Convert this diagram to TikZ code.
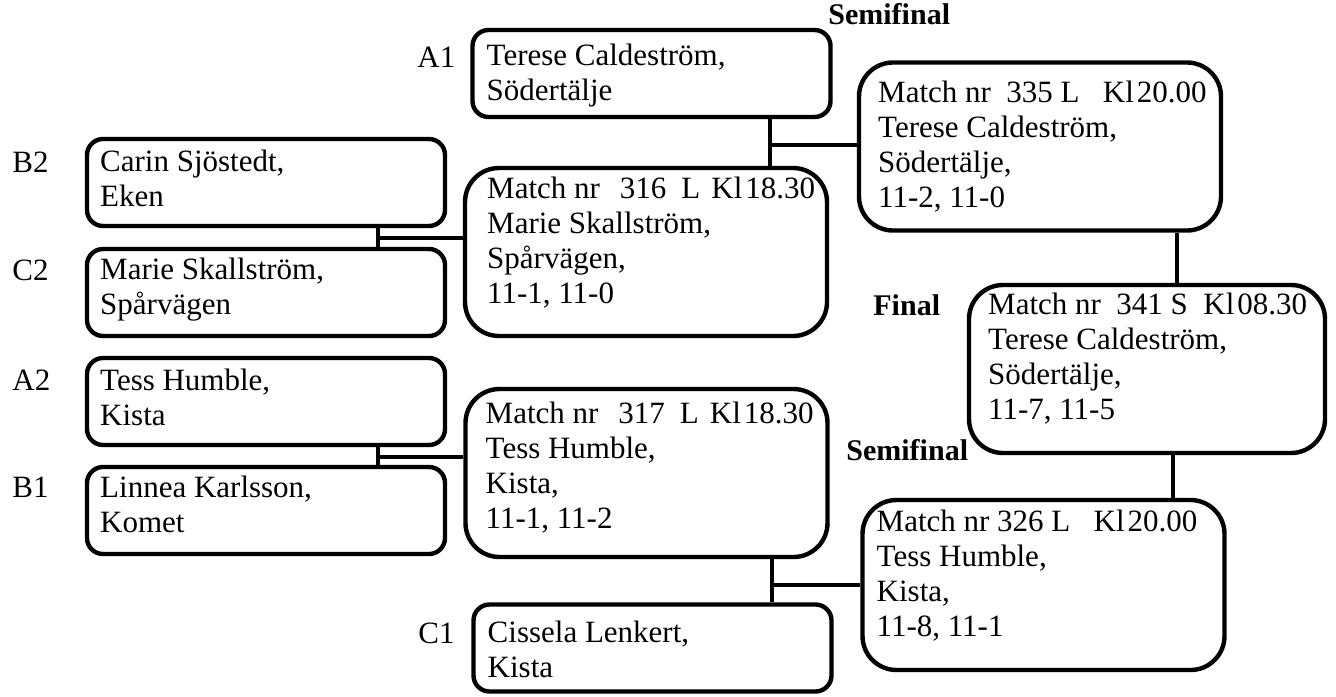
\documentclass[tikz,border=0pt]{standalone}
\usepackage{fontspec}
\setmainfont{Liberation Serif}
\newcommand{\cell}[1]{\begin{tabular}[t]{@{}l@{}}#1\end{tabular}}
\tikzset{
  player/.style={draw, line width=2.2pt, rounded corners=8pt, minimum width=179pt, minimum height=43.5pt, inner sep=0pt},
  match/.style={draw, line width=2.2pt, rounded corners=17pt, minimum width=181pt, minimum height=84pt, inner sep=0pt},
  txt/.style={anchor=base west, inner sep=0pt, font=\fontsize{15.5}{17.5}\selectfont},
  stage/.style={anchor=base west, inner sep=0pt, font=\fontsize{15}{17}\selectfont\bfseries},
  link/.style={line width=2.2pt}
}
\begin{document}
\begin{tikzpicture}[x=0.5pt,y=-0.5pt]
  \useasboundingbox (0,0) rectangle (1336,696);

  % first round
  \node[player] (a1) at (651.5,73.5) {};
  \node[player] (b2) at (266,182.5) {};
  \node[player] (c2) at (266,292.5) {};
  \node[player] (a2) at (266,401.5) {};
  \node[player] (b1) at (266,510.5) {};
  \node[player] (c1) at (652.5,648) {};

  \node[txt] (a1t) at ([shift={(16,38)}]a1.north west) {\cell{Terese Caldeström,\\Södertälje}};
  \node[txt] (b2t) at ([shift={(15,35)}]b2.north west) {\cell{Carin Sjöstedt,\\Eken}};
  \node[txt] (c2t) at ([shift={(15,33)}]c2.north west) {\cell{Marie Skallström,\\Spårvägen}};
  \node[txt] (a2t) at ([shift={(15,35)}]a2.north west) {\cell{Tess Humble,\\Kista}};
  \node[txt] (b1t) at ([shift={(15,33)}]b1.north west) {\cell{Linnea Karlsson,\\Komet}};
  \node[txt] (c1t) at ([shift={(16,40)}]c1.north west) {\cell{Cissela Lenkert,\\Kista}};

  \node[txt] (la1) at (417,67) {A1};
  \node[txt] (lb2) at (12,172) {B2};
  \node[txt] (lc2) at (12,280) {C2};
  \node[txt] (la2) at (12,390) {A2};
  \node[txt] (lb1) at (12,497) {B1};
  \node[txt] (lc1) at (418,643) {C1};

  % matches
  \node[match] (m316) at (646,252) {};
  \node[match] (m317) at (646.5,473) {};
  \node[match] (m335) at (1040,146.5) {};
  \node[match, minimum width=178pt] (m341) at (1147,369) {};
  \node[match, minimum height=85pt] (m326) at (1043.5,585) {};

  \node[txt] (m316t) at ([shift={(24,33)}]m316.north west) {\cell{Match nr\hspace{10pt}316\hspace{7.5pt}L\hspace{5.5pt}Kl\hspace{1.5pt}18.30\\Marie Skallström,\\Spårvägen,\\11-1, 11-0}};
  \node[txt] (m317t) at ([shift={(22,37)}]m317.north west) {\cell{Match nr\hspace{10pt}317\hspace{7.5pt}L\hspace{5.5pt}Kl\hspace{1.5pt}18.30\\Tess Humble,\\Kista,\\11-1, 11-2}};
  \node[txt] (m335t) at ([shift={(21,42)}]m335.north west) {\cell{Match nr~~335 L~~~Kl\hspace{1.5pt}20.00\\Terese Caldeström,\\Södertälje,\\11-2, 11-0}};
  \node[txt] (m341t) at ([shift={(21,32)}]m341.north west) {\cell{Match nr~~341 S~~Kl\hspace{1.5pt}08.30\\Terese Caldeström,\\Södertälje,\\11-7, 11-5}};
  \node[txt] (m326t) at ([shift={(16,34)}]m326.north west) {\cell{Match nr 326 L~~~Kl\hspace{1.5pt}20.00\\Tess Humble,\\Kista,\\11-8, 11-1}};

  \node[stage] (semi1) at (828,25) {Semifinal};
  \node[stage] (fin) at (873,315) {Final};
  \node[stage] (semi2) at (846,460) {Semifinal};

  % connectors
  \coordinate (j1) at (378,238);
  \coordinate (j2) at (378,457);
  \coordinate (j3) at (770,145);
  \coordinate (j4) at (772,585);
  \coordinate (j5) at (1177,258);
  \coordinate (j6) at (1173,478);
  \draw[link] (j1 |- b2.south) -- (j1 |- c2.north);
  \draw[link] (j1) -- (j1 -| m316.west);
  \draw[link] (j2 |- a2.south) -- (j2 |- b1.north);
  \draw[link] (j2) -- (j2 -| m317.west);
  \draw[link] (j3 |- a1.south) -- (j3 |- m316.north);
  \draw[link] (j3) -- (j3 -| m335.west);
  \draw[link] (j4 |- m317.south) -- (j4 |- c1.north);
  \draw[link] (j4) -- (j4 -| m326.west);
  \draw[link] (j5 |- m335.south) -- (j5 |- m341.north);
  \draw[link] (j6 |- m341.south) -- (j6 |- m326.north);
\end{tikzpicture}
\end{document}
